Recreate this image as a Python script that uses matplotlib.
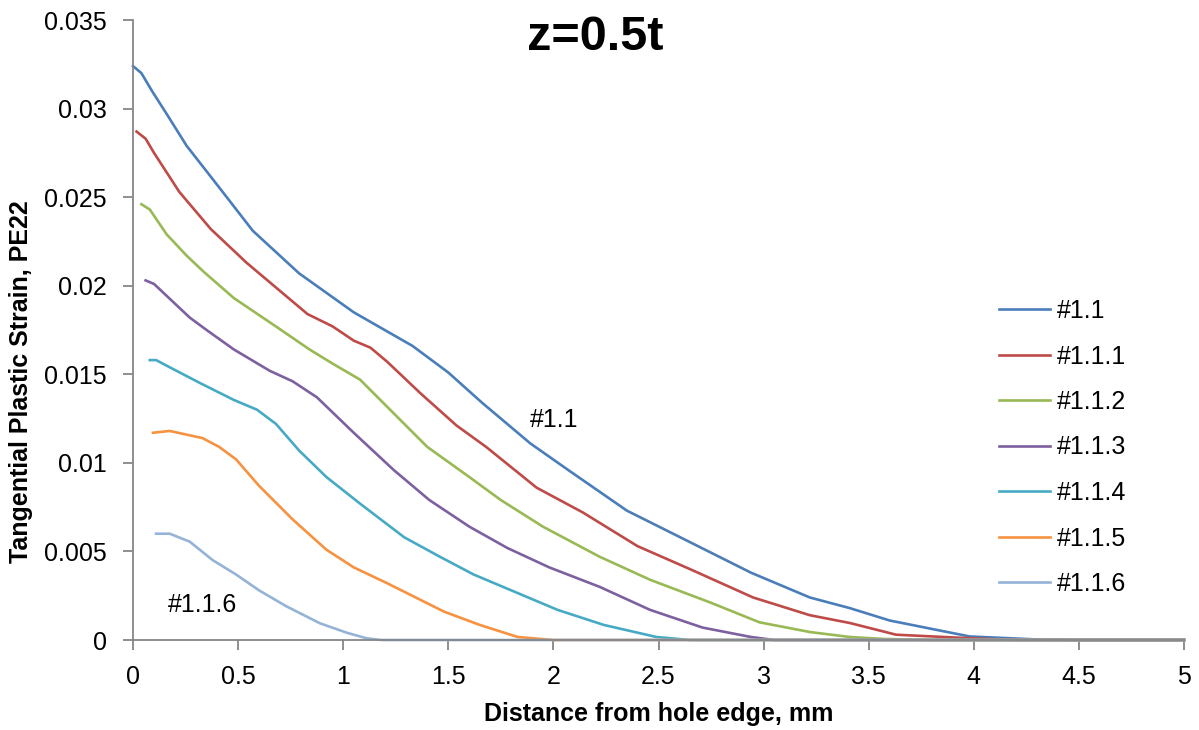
import matplotlib
matplotlib.use("Agg")
import matplotlib.pyplot as plt

plt.rcParams['font.family'] = ['Liberation Sans', 'DejaVu Sans']

# Tangential plastic strain (PE22) at mid-thickness vs. distance from hole edge
x_11 = [0, 0.04, 0.09, 0.16, 0.255, 0.40, 0.57, 0.79, 1.05, 1.33, 1.50, 1.66, 1.89, 2.07,
        2.35, 2.62, 2.94, 3.22, 3.41, 3.60, 3.98, 4.3, 4.5, 5]
y_11 = [0.0324, 0.0320, 0.0310, 0.0297, 0.0279, 0.0257, 0.0231, 0.0207, 0.0185, 0.0166,
        0.0151, 0.0134, 0.0111, 0.0096, 0.0073, 0.0057, 0.0038, 0.0024, 0.0018, 0.0011,
        0.0002, 0.00003, 0, 0]

x_111 = [0.017, 0.06, 0.10, 0.22, 0.37, 0.54, 0.65, 0.83, 0.95, 1.05, 1.13, 1.21, 1.37,
         1.54, 1.68, 1.92, 2.14, 2.40, 2.65, 2.95, 3.22, 3.41, 3.63, 3.98, 4.2, 5]
y_111 = [0.0287, 0.0283, 0.0275, 0.0253, 0.0232, 0.0213, 0.0202, 0.0184, 0.0177, 0.0169,
         0.0165, 0.0157, 0.0139, 0.0121, 0.0109, 0.0086, 0.0072, 0.0053, 0.0040, 0.0024,
         0.0014, 0.00096, 0.0003, 0.0001, 0, 0]

x_112 = [0.04, 0.08, 0.16, 0.255, 0.335, 0.48, 0.68, 0.84, 0.95, 1.08, 1.24, 1.40, 1.60,
         1.75, 1.95, 2.22, 2.46, 2.75, 2.98, 3.22, 3.41, 3.57, 3.8, 5]
y_112 = [0.0246, 0.0243, 0.0229, 0.0217, 0.0208, 0.0193, 0.0177, 0.0164, 0.0156, 0.0147,
         0.0128, 0.0109, 0.0092, 0.0079, 0.0064, 0.0047, 0.0034, 0.0021, 0.0010, 0.00045,
         0.00017, 0.00006, 0, 0]

x_113 = [0.06, 0.10, 0.27, 0.35, 0.48, 0.65, 0.76, 0.875, 1.05, 1.24, 1.41, 1.60, 1.78,
         1.98, 2.22, 2.46, 2.71, 2.94, 3.05, 5]
y_113 = [0.0203, 0.0201, 0.0182, 0.0175, 0.0164, 0.0152, 0.0146, 0.0137, 0.0117, 0.0096,
         0.0079, 0.0064, 0.0052, 0.0041, 0.0030, 0.0017, 0.0007, 0.00017, 0, 0]

x_114 = [0.08, 0.11, 0.19, 0.32, 0.48, 0.59, 0.68, 0.79, 0.92, 1.08, 1.29, 1.46, 1.62,
         1.84, 2.02, 2.24, 2.49, 2.65, 5]
y_114 = [0.0158, 0.0158, 0.0153, 0.0145, 0.01355, 0.0130, 0.0122, 0.0107, 0.0092, 0.0077,
         0.0058, 0.0047, 0.0037, 0.0026, 0.0017, 0.00085, 0.00017, 0, 0]

x_115 = [0.095, 0.175, 0.33, 0.41, 0.49, 0.60, 0.76, 0.92, 1.05, 1.21, 1.48, 1.65, 1.83,
         2.0, 5]
y_115 = [0.0117, 0.0118, 0.0114, 0.0109, 0.0102, 0.0087, 0.0068, 0.0051, 0.0041, 0.0032,
         0.0016, 0.00085, 0.00017, 0, 0]

x_116 = [0.11, 0.175, 0.27, 0.38, 0.49, 0.60, 0.73, 0.89, 1.02, 1.11, 1.18, 5]
y_116 = [0.0060, 0.0060, 0.00555, 0.0045, 0.0037, 0.0028, 0.0019, 0.00094, 0.0004,
         0.0001, 0, 0]

series_names = ['#1.1', '#1.1.1', '#1.1.2', '#1.1.3', '#1.1.4', '#1.1.5', '#1.1.6']
series_x = [x_11, x_111, x_112, x_113, x_114, x_115, x_116]
series_y = [y_11, y_111, y_112, y_113, y_114, y_115, y_116]
colors = ['#4A7EBB', '#BE4B48', '#98B954', '#7D60A0', '#46AAC5', '#F69240', '#95B3D7']

x_ticks = [0, 0.5, 1, 1.5, 2, 2.5, 3, 3.5, 4, 4.5, 5]
x_tick_labels = ['0', '0.5', '1', '1.5', '2', '2.5', '3', '3.5', '4', '4.5', '5']
y_ticks = [0, 0.005, 0.01, 0.015, 0.02, 0.025, 0.03, 0.035]
y_tick_labels = ['0', '0.005', '0.01', '0.015', '0.02', '0.025', '0.03', '0.035']

W, H = 1199, 730
fig = plt.figure(figsize=(W / 100, H / 100), dpi=100)
ax = fig.add_axes([133 / W, (H - 640) / H, 1051 / W, 620 / H])

for xs, ys, c, name in zip(series_x, series_y, colors, series_names):
    ax.plot(xs, ys, color=c, lw=1.9, label=name, solid_joinstyle='round', clip_on=False)

ax.set_xlim(0, 5)
ax.set_ylim(0, 0.035)
ax.set_xticks(x_ticks)
ax.set_xticklabels(x_tick_labels)
ax.set_yticks(y_ticks)
ax.set_yticklabels(y_tick_labels)

axis_grey = '#868686'
for side in ('top', 'right'):
    ax.spines[side].set_visible(False)
for side in ('left', 'bottom'):
    ax.spines[side].set_color(axis_grey)
    ax.spines[side].set_linewidth(1.3)
ax.tick_params(axis='both', direction='out', length=7, width=1.3, color=axis_grey,
               labelsize=18, labelcolor='black')
ax.tick_params(axis='y', pad=12)
ax.tick_params(axis='x', pad=11)

ax.set_xlabel('Distance from hole edge, mm', fontsize=18, fontweight='bold', labelpad=9)
ax.set_ylabel('Tangential Plastic Strain, PE22', fontsize=18, fontweight='bold')
ax.yaxis.set_label_coords(-0.0955, 0.416)

fig.text(595 / W, 1 - 38 / H, 'z=0.5t', fontsize=35, fontweight='bold',
         ha='center', va='center')

ax.text(1.889, 0.01242, '#1.1', fontsize=18, ha='left', va='center')
ax.text(0.1665, 0.00195, '#1.1.6', fontsize=18, ha='left', va='center')

ax.legend(loc='upper left', bbox_to_anchor=(999 / W, 1 - 299 / H),
          bbox_transform=fig.transFigure, frameon=False, fontsize=18,
          handlelength=2.05, handletextpad=0.25, labelspacing=0.86,
          borderpad=0, borderaxespad=0)

fig.savefig('out.png', dpi=100)
